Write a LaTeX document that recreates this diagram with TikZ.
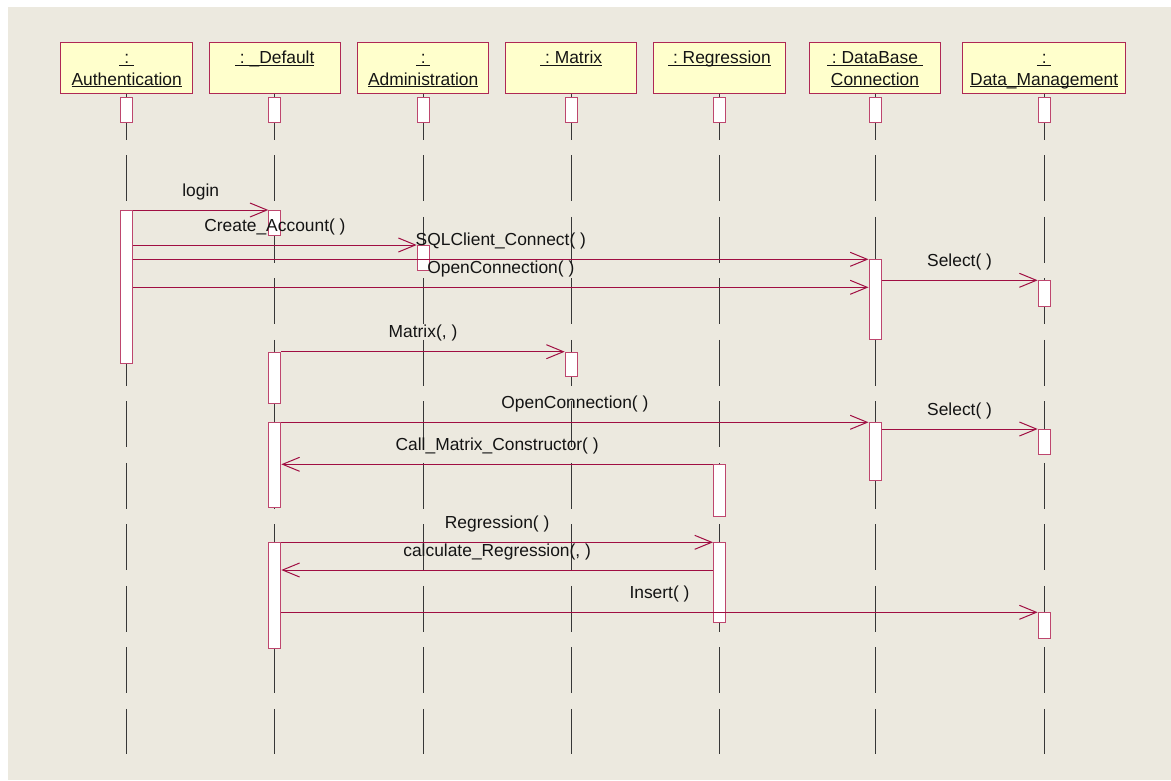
\documentclass[tikz,border=0pt]{standalone}
\usepackage{fontspec}
\setmainfont{Liberation Sans}
\usetikzlibrary{arrows.meta}
\definecolor{bg}{RGB}{236,233,223}
\definecolor{hdrfill}{RGB}{255,255,204}
\definecolor{crim}{RGB}{160,14,66}
\definecolor{hdrc}{RGB}{175,40,85}
\definecolor{barc}{RGB}{190,70,110}
\definecolor{lifec}{RGB}{55,55,55}
\definecolor{txtc}{RGB}{20,20,20}
\newcommand{\hu}[1]{\underline{\smash{#1}}}
\begin{document}
\begin{tikzpicture}[x=1pt,y=-1pt,
  hdr/.style={draw=hdrc, fill=hdrfill, line width=1pt, minimum width=131.5pt, minimum height=51pt, inner sep=0pt},
  htxt/.style={anchor=base, inner sep=0pt, text=txtc, font=\fontsize{17.4}{20}\selectfont},
  bar/.style={draw=barc, fill=white, line width=1pt, minimum width=12pt, inner sep=0pt, anchor=north},
  life/.style={draw=lifec, line width=1pt, dash pattern=on 46pt off 15.5pt},
  msg/.style={draw=crim, line width=1pt, -{Straight Barb[length=17pt,width=14pt]}},
  lbl/.style={anchor=base, inner sep=0pt, midway, yshift=14pt, text=txtc, font=\fontsize{17.4}{20}\selectfont},
]
\useasboundingbox (0,0) rectangle (1171,780);
\fill[bg] (8,7) rectangle (1171,780);

% headers
\node[hdr] (hA)  at (126.7,67.8) {};
\node[hdr] (hD)  at (274.8,67.8) {};
\node[hdr] (hAd) at (423.2,67.8) {};
\node[hdr] (hM)  at (571.2,67.8) {};
\node[hdr] (hR)  at (719.5,67.8) {};
\node[hdr] (hDB) at (875.0,67.8) {};
\node[hdr, minimum width=163pt] (hDM) at (1044.2,67.8) {};

\node[htxt] (tA1)  at (126.7,63.3) {\hu{\ :\ }};
\node[htxt] (tA2)  at (126.7,85.0) {\hu{Authentication}};
\node[htxt] (tD1)  at (274.8,63.3) {\hu{\ :\ \_Default}};
\node[htxt] (tAd1) at (423.2,63.3) {\hu{\ :\ }};
\node[htxt] (tAd2) at (423.2,85.0) {\hu{Administration}};
\node[htxt] (tM1)  at (571.2,63.3) {\hu{\ :\ Matrix}};
\node[htxt] (tR1)  at (719.5,63.3) {\hu{\ :\ Regression}};
\node[htxt] (tDB1) at (875.0,63.3) {\hu{\ :\ DataBase\ }};
\node[htxt] (tDB2) at (875.0,85.0) {\hu{Connection}};
\node[htxt] (tDM1) at (1044.2,63.3) {\hu{\ :\ }};
\node[htxt] (tDM2) at (1044.2,85.0) {\hu{Data\_Management}};

% lifeline ends
\coordinate (eA)  at (126.7,754);
\coordinate (eD)  at (274.8,754);
\coordinate (eAd) at (423.2,754);
\coordinate (eM)  at (571.2,754);
\coordinate (eR)  at (719.5,754);
\coordinate (eDB) at (875.0,754);
\coordinate (eDM) at (1044.2,754);

\draw[life] (hA.south)  -- (eA);
\draw[life] (hD.south)  -- (eD);
\draw[life] (hAd.south) -- (eAd);
\draw[life] (hM.south)  -- (eM);
\draw[life] (hR.south)  -- (eR);
\draw[life] (hDB.south) -- (eDB);
\draw[life] (hDM.south) -- (eDM);

% top activation boxes
\node[bar, minimum height=25pt] (sA)  at (126.7,97) {};
\node[bar, minimum height=25pt] (sD)  at (274.8,97) {};
\node[bar, minimum height=25pt] (sAd) at (423.2,97) {};
\node[bar, minimum height=25pt] (sM)  at (571.2,97) {};
\node[bar, minimum height=25pt] (sR)  at (719.5,97) {};
\node[bar, minimum height=25pt] (sDB) at (875.0,97) {};
\node[bar, minimum height=25pt] (sDM) at (1044.2,97) {};

% activation bars
\node[bar, minimum height=152.7pt] (a1) at (126.7,210) {};
\node[bar, minimum height=25pt]  (d1) at (274.8,210) {};
\node[bar, minimum height=51pt]  (d2) at (274.8,351.7) {};
\node[bar, minimum height=85pt]  (d3) at (274.8,422.3) {};
\node[bar, minimum height=106pt] (d4) at (274.8,542.3) {};
\node[bar, minimum height=24.5pt] (ad1) at (423.2,245) {};
\node[bar, minimum height=24.5pt] (m1) at (571.2,351.7) {};
\node[bar, minimum height=51.7pt] (r1) at (719.5,464.3) {};
\node[bar, minimum height=79.7pt] (r2) at (719.5,542.3) {};
\node[bar, minimum height=80pt]   (db1) at (875.0,259.3) {};
\node[bar, minimum height=58.6pt] (db2) at (875.0,421.7) {};
\node[bar, minimum height=25.4pt] (dm1) at (1044.2,280.3) {};
\node[bar, minimum height=25.3pt] (dm2) at (1044.2,429) {};
\node[bar, minimum height=26pt]   (dm3) at (1044.2,612.3) {};

% message heights
\coordinate (y4) at (0,287.3);
\coordinate (y11) at (0,570);

% messages
\draw[msg] (a1.north east) -- (d1.north west) node[lbl] (l1) {login};
\draw[msg] (a1.east |- ad1.north west) -- (ad1.north west) node[lbl] (l2) {Create\_Account( )};
\draw[msg] (a1.east |- db1.north west) -- (db1.north west) node[lbl] (l3) {SQLClient\_Connect( )};
\draw[msg] (a1.east |- y4) -- (db1.west |- y4) node[lbl] (l4) {OpenConnection( )};
\draw[msg] (db1.east |- dm1.north) -- (dm1.north west) node[lbl] (l5) {Select( )};
\draw[msg] (d2.north east) -- (m1.north west) node[lbl] (l6) {Matrix(, )};
\draw[msg] (d3.north east) -- (db2.west |- d3.north east) node[lbl] (l7) {OpenConnection( )};
\draw[msg] (db2.east |- dm2.north) -- (dm2.north west) node[lbl] (l8) {Select( )};
\draw[msg] (r1.north west) -- (d3.east |- r1.north west) node[lbl] (l9) {Call\_Matrix\_Constructor( )};
\draw[msg] (d4.north east) -- (r2.north west) node[lbl] (l10) {Regression( )};
\draw[msg] (r2.west |- y11) -- (d4.east |- y11) node[lbl] (l11) {calculate\_Regression(, )};
\draw[msg] (d4.east |- dm3.north) -- (dm3.north west) node[lbl] (l12) {Insert( )};
\end{tikzpicture}
\end{document}
